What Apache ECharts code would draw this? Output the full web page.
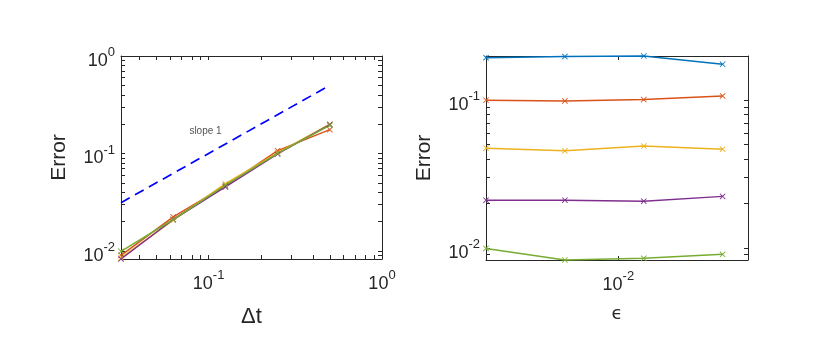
<!DOCTYPE html>
<html>
<head>
<meta charset="utf-8">
<script src="https://cdn.jsdelivr.net/npm/echarts@6/dist/echarts.min.js"></script>
<style>
html,body{margin:0;padding:0;background:#fff;}
#chart{width:830px;height:351px;}
</style>
</head>
<body>
<div id="chart"></div>
<script>
// ---- data ----
const dtValues = [0.5, 0.25, 0.125, 0.0625, 0.03125];
const epsValues = [0.003125, 0.00625, 0.0125, 0.025];
// error vs epsilon, one array per dt
const errDt1 = [0.1945, 0.1977, 0.1995, 0.1754];   // dt = 1/2
const errDt2 = [0.1000, 0.0989, 0.1011, 0.1069];   // dt = 1/4
const errDt3 = [0.0473, 0.0454, 0.0489, 0.0466];   // dt = 1/8
const errDt4 = [0.0210, 0.0210, 0.0207, 0.0223];   // dt = 1/16
const errDt5 = [0.0099, 0.00826, 0.00848, 0.00902]; // dt = 1/32
// reference slope-1 line
const slopeX = [0.03125, 0.5];
const slopeY = [0.03125, 0.5];
const slopeLabel = 'slope 1';
const slopeLabelPos = [0.096, 0.17];
// tick values
const leftXLabels = [0.1, 1];
const leftXTicks = [0.04,0.05,0.06,0.07,0.08,0.09,0.1,0.2,0.3,0.4,0.5,0.6,0.7,0.8,0.9,1];
const leftYLabels = [0.01, 0.1, 1];
const leftYTicks = [0.009,0.01,0.02,0.03,0.04,0.05,0.06,0.07,0.08,0.09,0.1,0.2,0.3,0.4,0.5,0.6,0.7,0.8,0.9,1];
const rightXLabels = [0.01];
const rightXTicks = [0.01];
const rightYLabels = [0.01, 0.1];
const rightYTicks = [0.009,0.01,0.02,0.03,0.04,0.05,0.06,0.07,0.08,0.09,0.1];

const errByDt = [errDt1, errDt2, errDt3, errDt4, errDt5];
const C = {blue:'#0072BD', orange:'#D95319', yellow:'#EDB120', purple:'#7E2F8E', green:'#77AC30'};
const dtColors = [C.blue, C.orange, C.yellow, C.purple, C.green];
const epsColors = [C.green, C.purple, C.yellow, C.orange];

const allErr = [].concat(errDt1, errDt2, errDt3, errDt4, errDt5);
const yMinAll = Math.min.apply(null, allErr);
const yMaxAll = Math.max.apply(null, allErr);

const AX = '#262626';
const FONT = '"Liberation Sans", Arial, sans-serif';
const XMARK = 'path://M0,1L1,0L5,4L9,0L10,1L6,5L10,9L9,10L5,6L1,10L0,9L4,5Z';

function fmt(v){ const e = Math.round(Math.log10(v)); return '{b|10}{e|' + e + '}'; }
const rich = {
  b:{fontSize:18, fontFamily:FONT, color:AX, verticalAlign:'bottom', lineHeight:28},
  e:{fontSize:13, fontFamily:FONT, color:AX, verticalAlign:'bottom', lineHeight:28, padding:[0,0,11,0]}
};

function axis(gridIndex, pos, min, max, ticks, labels, extra){
  const a = {
    type:'log', logBase:10, gridIndex:gridIndex, position:pos, min:min, max:max,
    axisLine:{show:true, onZero:false, lineStyle:{color:AX, width:1}},
    axisTick:{show:true, inside:true, length:4, customValues:ticks, lineStyle:{color:AX, width:1}},
    splitLine:{show:false}, minorTick:{show:false}, minorSplitLine:{show:false},
    axisLabel: labels ? {show:true, customValues:labels, formatter:fmt, rich:rich, margin:6} : {show:false}
  };
  return Object.assign(a, extra || {});
}

const series = [];
series.push({
  type:'line', xAxisIndex:0, yAxisIndex:0, symbol:'none', silent:true,
  data: slopeX.map((x,i)=>[x, slopeY[i]]),
  lineStyle:{color:'#0000FF', width:1.7, type:[10,6]}, z:1
});
[3,2,1,0].forEach(j=>{
  series.push({
    type:'line', xAxisIndex:0, yAxisIndex:0, clip:false,
    symbol:XMARK, symbolSize:6,
    data: dtValues.map((d,i)=>[d, errByDt[i][j]]),
    lineStyle:{color:epsColors[j], width:1.5}, itemStyle:{color:epsColors[j]}, z:2
  });
});
series.push({
  type:'scatter', xAxisIndex:0, yAxisIndex:0, symbolSize:0, silent:true,
  data:[slopeLabelPos],
  label:{show:true, position:'inside', formatter:slopeLabel, fontSize:10, fontFamily:FONT, color:AX}
});
errByDt.forEach((arr,i)=>{
  series.push({
    type:'line', xAxisIndex:2, yAxisIndex:2, clip:false,
    symbol:XMARK, symbolSize:6,
    data: epsValues.map((e,k)=>[e, arr[k]]),
    lineStyle:{color:dtColors[i], width:1.5}, itemStyle:{color:dtColors[i]}, z:2
  });
});

const option = {
  backgroundColor:'#fff',
  animation:false,
  grid:[
    {left:121, top:56, width:261, height:203},
    {left:486, top:56, width:262, height:204}
  ],
  xAxis:[
    axis(0,'bottom',0.03125,1,leftXTicks,leftXLabels,{name:'Δt', nameLocation:'middle', nameGap:47,
      nameTextStyle:{fontSize:22, fontFamily:FONT, color:AX}}),
    axis(0,'top',0.03125,1,leftXTicks,null),
    axis(1,'bottom',0.003125,0.03125,rightXTicks,rightXLabels,{name:'ϵ', nameLocation:'middle', nameGap:45,
      nameTextStyle:{fontSize:18, fontFamily:'"DejaVu Sans", sans-serif', color:AX}}),
    axis(1,'top',0.003125,0.03125,rightXTicks,null)
  ],
  yAxis:[
    axis(0,'left',yMinAll,1,leftYTicks,leftYLabels,{name:'Error', nameLocation:'middle', nameGap:51,
      nameTextStyle:{fontSize:21, fontFamily:FONT, color:AX}}),
    axis(0,'right',yMinAll,1,leftYTicks,null),
    axis(1,'left',yMinAll,yMaxAll,rightYTicks,rightYLabels,{name:'Error', nameLocation:'middle', nameGap:51,
      nameTextStyle:{fontSize:21, fontFamily:FONT, color:AX}}),
    axis(1,'right',yMinAll,yMaxAll,rightYTicks,null)
  ],
  series:series
};
const chart = echarts.init(document.getElementById('chart'), null, {renderer:'canvas'});
chart.setOption(option);
</script>
</body>
</html>
